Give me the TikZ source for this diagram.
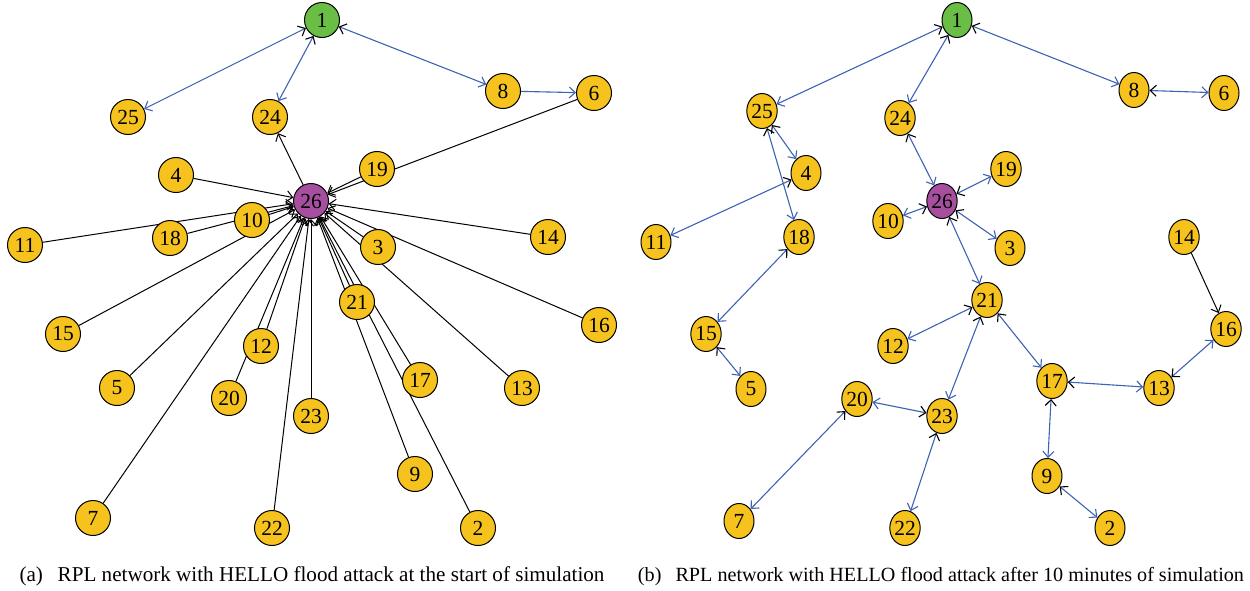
\documentclass[tikz,border=0pt]{standalone}
\usepackage{fontspec}
\setmainfont{Liberation Serif}
\usetikzlibrary{arrows.meta,shapes.geometric}
\pgfdeclarelayer{edges}
\pgfsetlayers{edges,main}
\definecolor{ngold}{HTML}{F5C21E}
\definecolor{ngreen}{HTML}{6BBE45}
\definecolor{npurple}{HTML}{A74F9F}
\definecolor{lblue}{HTML}{3F62B4}
\tikzset{
  anode/.style={circle,draw=black,line width=1pt,fill=ngold,minimum size=35pt,inner sep=0pt,font=\fontsize{21.5}{21.5}\selectfont},
  bnode/.style={ellipse,draw=black,line width=1pt,fill=ngold,minimum width=30pt,minimum height=35pt,inner sep=0pt,font=\fontsize{21.5}{21.5}\selectfont},
  root/.style={fill=ngreen},
  evil/.style={fill=npurple},
  atk/.style={draw=black,line width=1pt,-{Straight Barb[length=6pt,width=11pt]}},
  pc/.style={draw=lblue,line width=1.1pt,{Straight Barb[length=6pt,width=11pt,color=black]}-{Straight Barb[length=6pt,width=11pt]}},
  pcone/.style={draw=lblue,line width=1.1pt,-{Straight Barb[length=6pt,width=11pt]}},
  captext/.style={font=\fontsize{21}{21}\selectfont,anchor=base,inner sep=0pt}
}
\begin{document}
\begin{tikzpicture}[x=1pt,y=-1pt]
\useasboundingbox (0,0) rectangle (1250,590);
% ---------- panel (a) ----------
\foreach \n/\x/\y in {25/128/117,24/270/117,8/503/91,6/594/93,4/176/175,19/377/169,
  10/252/220,18/170/238,11/25/245,14/548/237,3/378/247,21/357/302,16/599/325,15/63/334,
  12/261/346,5/117/388,17/420/380,13/522/388,20/229/398,23/311/416,9/415/474,7/93/518,
  22/272/528,2/478/528}
  \node[anode] (a\n) at (\x,\y) {\n};
\node[anode,root] (a1) at (322,20) {1};
\node[anode,evil] (a26) at (311,201) {26};
\begin{pgfonlayer}{edges}
\foreach \s in {4,10,18,11,15,5,7,12,20,22,23,21,9,17,2,3,13,14,16,19,6}
  \draw[atk] (a\s) -- (a26);
\draw[atk] (a26) -- (a24);
\draw[pc] (a1) -- (a25);
\draw[pc] (a1) -- (a24);
\draw[pc] (a1) -- (a8);
\draw[pcone] (a8) -- (a6);
\end{pgfonlayer}
\node[captext] (capa) at (312,581) {\resizebox{585pt}{!}{(a)\hspace{0.7em}RPL network with HELLO flood attack at the start of simulation}};
% ---------- panel (b) ----------
\foreach \n/\x/\y in {25/762/111,24/900/118,8/1134/90,6/1224/93,4/806/173,19/1006/169,
  10/888/221,3/1010/248,11/656/242,18/799/237,14/1184/237,21/987/300,16/1226/329,
  15/706/334,12/893/346,5/751/389,17/1052/381,13/1159/388,20/857/399,23/942/416,
  9/1047/476,7/739/521,22/905/528,2/1110/528}
  \node[bnode] (b\n) at (\x,\y) {\n};
\node[bnode,root] (b1) at (957,20) {1};
\node[bnode,evil] (b26) at (942,201) {26};
\begin{pgfonlayer}{edges}
\foreach \p/\c in {1/25,1/24,1/8,8/6,25/4,25/18,4/11,18/15,15/5,24/26,26/19,26/10,26/3,
  26/21,21/12,21/23,21/17,23/20,20/7,23/22,17/13,17/9,9/2,13/16}
  \draw[pc] (b\p) -- (b\c);
\draw[atk] (b14) -- (b16);
\end{pgfonlayer}
\node[captext] (capb) at (941,581) {\resizebox{606pt}{!}{(b)\hspace{0.7em}RPL network with HELLO flood attack after 10 minutes of simulation}};
\end{tikzpicture}
\end{document}
